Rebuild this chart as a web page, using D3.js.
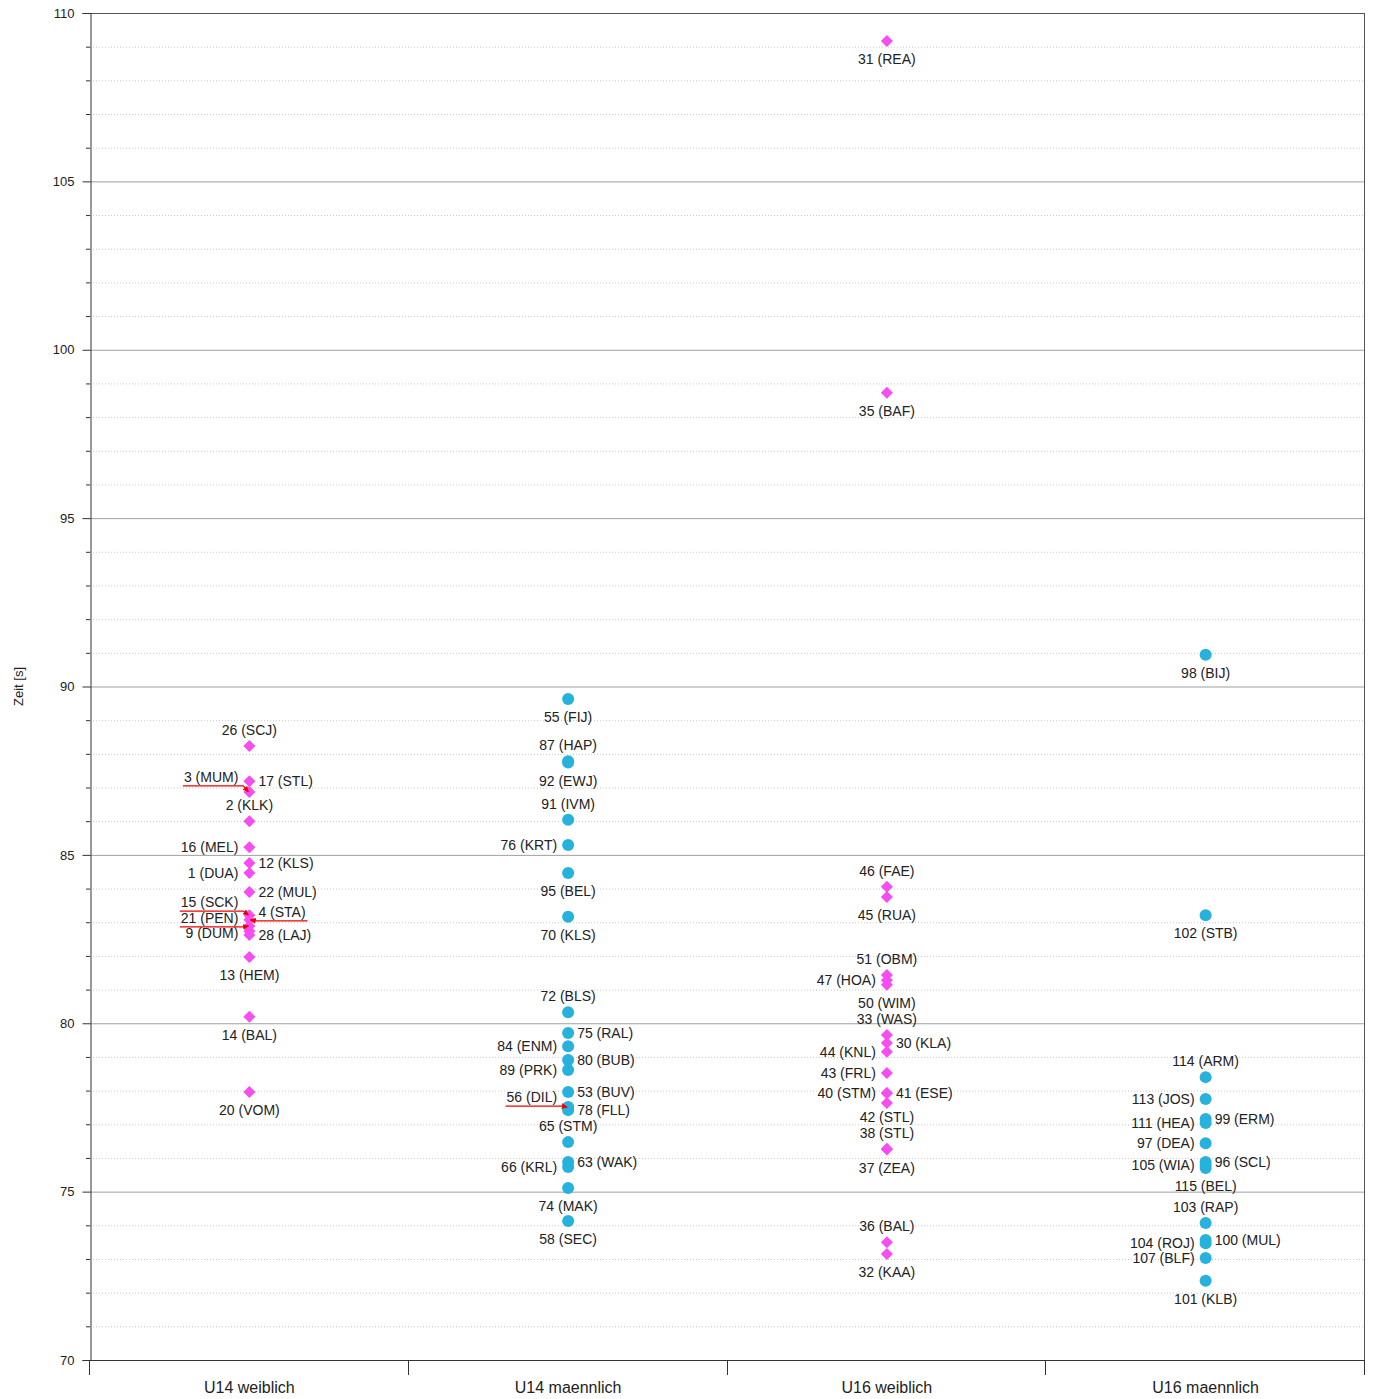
<!DOCTYPE html>
<html>
<head>
<meta charset="utf-8">
<script src="https://cdn.jsdelivr.net/npm/d3@7"></script>
<style>
  body { margin: 0; background: #fff; }
  svg { font-family: "Liberation Sans", Arial, sans-serif; }
  .lbl { font-size: 14px; fill: #222; }
  .tick-lbl { font-size: 13px; fill: #222; }
  .cat-lbl { font-size: 16px; fill: #222; }
</style>
</head>
<body>
<svg id="chart" width="1374" height="1399"></svg>
<script>
const categories = ["U14 weiblich", "U14 maennlich", "U16 weiblich", "U16 maennlich"];

const u14wLabels = ["26 (SCJ)", "17 (STL)", "3 (MUM)", "2 (KLK)", "16 (MEL)", "12 (KLS)", "1 (DUA)", "22 (MUL)",
    "15 (SCK)", "4 (STA)", "21 (PEN)", "9 (DUM)", "28 (LAJ)", "13 (HEM)", "14 (BAL)", "20 (VOM)"];
const u14wTimes = [88.23, 87.19, 86.87, 86.00, 85.23, 84.76, 84.46, 83.90,
    83.21, 83.07, 82.89, 82.74, 82.62, 81.97, 80.19, 77.96];

const u14mLabels = ["55 (FIJ)", "87 (HAP)", "92 (EWJ)", "91 (IVM)", "76 (KRT)", "95 (BEL)", "70 (KLS)", "72 (BLS)",
    "75 (RAL)", "84 (ENM)", "80 (BUB)", "89 (PRK)", "53 (BUV)", "56 (DIL)", "78 (FLL)", "65 (STM)",
    "63 (WAK)", "66 (KRL)", "74 (MAK)", "58 (SEC)"];
const u14mTimes = [89.63, 87.78, 87.74, 86.04, 85.29, 84.46, 83.16, 80.33,
    79.71, 79.32, 78.91, 78.61, 77.96, 77.51, 77.42, 76.47,
    75.88, 75.73, 75.11, 74.13];

const u16wLabels = ["31 (REA)", "35 (BAF)", "46 (FAE)", "45 (RUA)", "51 (OBM)", "47 (HOA)", "50 (WIM)", "33 (WAS)",
    "30 (KLA)", "44 (KNL)", "43 (FRL)", "40 (STM)", "41 (ESE)", "42 (STL)", "38 (STL)", "37 (ZEA)",
    "36 (BAL)", "32 (KAA)"];
const u16wTimes = [109.17, 98.72, 84.05, 83.75, 81.43, 81.28, 81.14, 79.65,
    79.41, 79.15, 78.52, 77.93, 77.92, 77.63, 76.27, 76.25,
    73.50, 73.15];

const u16mLabels = ["98 (BIJ)", "102 (STB)", "114 (ARM)", "113 (JOS)", "99 (ERM)", "111 (HEA)", "97 (DEA)", "96 (SCL)",
    "105 (WIA)", "115 (BEL)", "103 (RAP)", "100 (MUL)", "104 (ROJ)", "107 (BLF)", "101 (KLB)"];
const u16mTimes = [90.94, 83.21, 78.40, 77.75, 77.16, 77.04, 76.44, 75.88,
    75.79, 75.70, 74.07, 73.56, 73.47, 73.03, 72.35];

const yTicks = [70, 75, 80, 85, 90, 95, 100, 105, 110];

// label layout: a = above, b = below, l = left, r = right, L/R = with leader line (second value = text shift)
const u14wPlace = [["a"], ["r"], ["L", -15], ["a"], ["l"], ["r"], ["l"], ["r"],
    ["L", -13], ["R", -8], ["L", -8], ["l", 2], ["r"], ["b"], ["b"], ["b"]];
const u14mPlace = [["b"], ["a"], ["b"], ["a"], ["l"], ["b"], ["b"], ["a"],
    ["r"], ["l"], ["r"], ["l"], ["r"], ["L", -10], ["r"], ["a"],
    ["r"], ["l"], ["b"], ["b"]];
const u16wPlace = [["b"], ["b"], ["a"], ["b"], ["a"], ["l"], ["b"], ["a"],
    ["r"], ["l"], ["l"], ["l"], ["r"], ["b", -4], ["a"], ["b"],
    ["a"], ["b"]];
const u16mPlace = [["b"], ["b"], ["a"], ["l"], ["r"], ["l"], ["l"], ["r"],
    ["l"], ["b"], ["a"], ["r"], ["l"], ["l"], ["b"]];

const groups = [
    { cat: categories[0], labels: u14wLabels, times: u14wTimes, place: u14wPlace, shape: "diamond" },
    { cat: categories[1], labels: u14mLabels, times: u14mTimes, place: u14mPlace, shape: "circle" },
    { cat: categories[2], labels: u16wLabels, times: u16wTimes, place: u16wPlace, shape: "diamond" },
    { cat: categories[3], labels: u16mLabels, times: u16mTimes, place: u16mPlace, shape: "circle" }
];

const pink = "#f74cf0";
const blue = "#26b2dc";

const plot = { left: 90, right: 1365, top: 13, bottom: 1360 };

const svg = d3.select("#chart");

const x = d3.scaleBand().domain(categories).range([plot.left, plot.right]);
const y = d3.scaleLinear().domain([70, 110]).range([plot.bottom, plot.top]);

// grid
const minor = d3.range(71, 110).filter(v => v % 5 !== 0);
svg.append("g").selectAll("line").data(minor).join("line")
    .attr("x1", plot.left).attr("x2", plot.right)
    .attr("y1", d => y(d) + 0.5).attr("y2", d => y(d) + 0.5)
    .attr("stroke", "#c8c8c8").attr("stroke-dasharray", "1,2");

svg.append("g").selectAll("line").data(yTicks.filter(v => v > 70 && v < 110)).join("line")
    .attr("x1", plot.left).attr("x2", plot.right)
    .attr("y1", d => y(d) + 0.5).attr("y2", d => y(d) + 0.5)
    .attr("stroke", "#a0a0a0");

// frame
svg.append("line").attr("x1", plot.left).attr("x2", plot.right)
    .attr("y1", plot.top + 0.5).attr("y2", plot.top + 0.5).attr("stroke", "#555");
svg.append("line").attr("x1", plot.right - 0.5).attr("x2", plot.right - 0.5)
    .attr("y1", plot.top).attr("y2", plot.bottom).attr("stroke", "#555");

// y axis
const yAxis = d3.axisLeft(y).tickValues(yTicks).tickSize(8).tickPadding(8);
const gy = svg.append("g").attr("transform", `translate(${plot.left + 0.5},0)`).call(yAxis);
gy.select(".domain").attr("stroke", "#333");
gy.selectAll(".tick line").attr("stroke", "#333");
gy.selectAll(".tick text").attr("class", "tick-lbl").attr("font-family", null).attr("font-size", null).attr("fill", null);
svg.append("g").selectAll("line").data(minor).join("line")
    .attr("x1", plot.left - 4).attr("x2", plot.left)
    .attr("y1", d => y(d) + 0.5).attr("y2", d => y(d) + 0.5)
    .attr("stroke", "#333");

svg.append("text")
    .attr("class", "tick-lbl")
    .attr("transform", `translate(18,${(plot.top + plot.bottom) / 2}) rotate(-90)`)
    .attr("text-anchor", "middle")
    .attr("dominant-baseline", "central")
    .text("Zeit [s]");

// x axis
svg.append("line").attr("x1", plot.left).attr("x2", plot.right)
    .attr("y1", plot.bottom + 0.5).attr("y2", plot.bottom + 0.5).attr("stroke", "#333");
const bounds = categories.map(c => x(c)).concat([plot.right]);
svg.append("g").selectAll("line").data(bounds).join("line")
    .attr("x1", d => Math.round(d) - 0.5).attr("x2", d => Math.round(d) - 0.5)
    .attr("y1", plot.bottom).attr("y2", plot.bottom + 15)
    .attr("stroke", "#333");
svg.append("g").selectAll("text").data(categories).join("text")
    .attr("class", "cat-lbl")
    .attr("x", d => x(d) + x.bandwidth() / 2)
    .attr("y", plot.bottom + 27)
    .attr("text-anchor", "middle")
    .attr("dominant-baseline", "central")
    .text(d => d);

// leader arrow
svg.append("defs").append("marker")
    .attr("id", "arrow").attr("viewBox", "0 0 10 10")
    .attr("refX", 9).attr("refY", 5)
    .attr("markerWidth", 5).attr("markerHeight", 5)
    .attr("orient", "auto")
    .append("path").attr("d", "M0,0L10,5L0,10z").attr("fill", "#e00");

const marks = svg.append("g");
const labels = svg.append("g");
const leaders = svg.append("g");

groups.forEach(gr => {
    const cx = x(gr.cat) + x.bandwidth() / 2;
    const pts = gr.times.map((t, i) => ({ t, label: gr.labels[i], side: gr.place[i][0], dy: gr.place[i][1] || 0 }));

    if (gr.shape === "diamond") {
        marks.selectAll(null).data(pts).join("path")
            .attr("d", d3.symbol(d3.symbolSquare, 72)())
            .attr("transform", d => `translate(${cx},${y(d.t)}) rotate(45)`)
            .attr("fill", pink);
    } else {
        marks.selectAll(null).data(pts).join("circle")
            .attr("cx", cx).attr("cy", d => y(d.t)).attr("r", 6)
            .attr("fill", blue);
    }

    pts.forEach(d => {
        const cy = y(d.t);
        const t = labels.append("text").attr("class", "lbl")
            .attr("dominant-baseline", "central").text(d.label);
        if (d.side === "a" || d.side === "b") {
            t.attr("x", cx).attr("y", cy + (d.side === "a" ? -16 : 18) + d.dy).attr("text-anchor", "middle");
        } else if (d.side === "l" || d.side === "L") {
            t.attr("x", cx - 11).attr("y", cy + d.dy).attr("text-anchor", "end");
        } else {
            t.attr("x", cx + 9).attr("y", cy + d.dy).attr("text-anchor", "start");
        }
        if (d.side === "L" || d.side === "R") {
            const w = t.node().getComputedTextLength();
            const ly = cy + d.dy + 9;
            const pts2 = d.side === "L"
                ? [[cx - 11 - w - 1, ly], [cx - 6, ly], [cx - 1, cy]]
                : [[cx + 9 + w + 2, ly], [cx + 6, ly], [cx + 1, cy]];
            leaders.append("path")
                .attr("d", d3.line()(pts2))
                .attr("fill", "none").attr("stroke", "#e00").attr("stroke-width", 1.2)
                .attr("marker-end", "url(#arrow)");
        }
    });
});
</script>
</body>
</html>
